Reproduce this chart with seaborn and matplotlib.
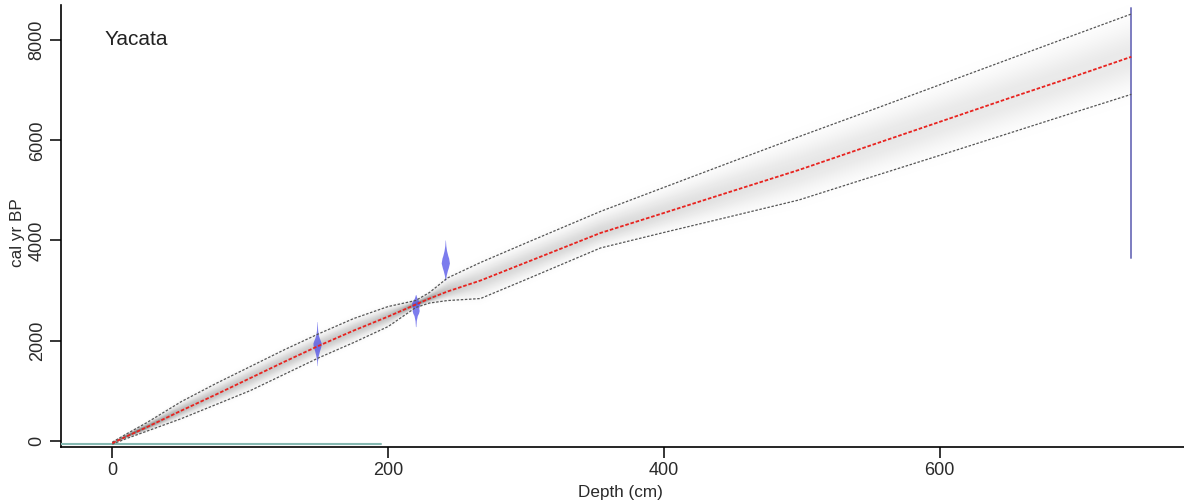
import numpy as np
import pandas as pd
import matplotlib
matplotlib.use("Agg")
import matplotlib.pyplot as plt
import seaborn as sns

# ---------------- data ----------------
depth = [0, 10, 25, 50, 75, 100, 125, 150, 175, 200, 220, 230, 243, 267,
         300, 354, 400, 450, 498, 550, 600, 650, 700, 739]
age_mean = [-50, 80, 270, 600, 920, 1250, 1580, 1900, 2200, 2480, 2720, 2840,
            2980, 3200, 3560, 4150, 4550, 4990, 5410, 5900, 6370, 6840, 7300, 7670]
age_upper = [-30, 130, 360, 780, 1140, 1480, 1820, 2140, 2440, 2680, 2800, 2960,
             3250, 3560, 3950, 4580, 5060, 5580, 6075, 6600, 7110, 7620, 8130, 8525]
age_lower = [-70, 40, 190, 440, 720, 1000, 1330, 1660, 1960, 2280, 2660, 2750,
             2800, 2840, 3220, 3850, 4160, 4490, 4810, 5265, 5700, 6140, 6580, 6920]

# calibrated date distributions (depth, ages, relative probability)
date1_depth = 148.5
date1_age = [1500, 1600, 1700, 1750, 1800, 1850, 1900, 1950, 2000, 2050, 2100, 2200, 2300, 2380]
date1_prob = [0.03, 0.1, 0.3, 0.45, 0.6, 0.8, 0.95, 1.0, 0.8, 0.55, 0.35, 0.15, 0.08, 0.03]
date2_depth = 220
date2_age = [2280, 2400, 2500, 2550, 2600, 2650, 2700, 2750, 2800, 2850, 2920]
date2_prob = [0.05, 0.15, 0.4, 0.7, 0.85, 0.75, 0.9, 1.0, 0.7, 0.3, 0.05]
date3_depth = 241.5
date3_age = [3200, 3300, 3400, 3450, 3500, 3550, 3600, 3650, 3700, 3800, 3900, 4010]
date3_prob = [0.05, 0.2, 0.5, 0.7, 0.85, 1.0, 0.9, 0.8, 0.6, 0.3, 0.12, 0.03]
date4_depth = 739
date4_age = [3650, 8640]

# surface age line
surface_depth = [-37, 195]
surface_age = [-60, -60]

x_ticks = [0, 200, 400, 600]
y_ticks = [0, 2000, 4000, 6000, 8000]
title = "Yacata"
x_label = "Depth (cm)"
y_label = "cal yr BP"

# ---------------- plotting ----------------
sns.set_style("ticks")
plt.rcParams["font.family"] = ["Liberation Sans", "DejaVu Sans"]

fig = plt.figure(figsize=(11.84, 5.04), dpi=100)
ax = fig.add_axes([61 / 1184, 57 / 504, 1123 / 1184, 442 / 504])

XLIM = (-37.2, 777.2)
YLIM = (-126, 8705)

d = np.array(depth, float)
m = np.array(age_mean, float)
u = np.array(age_upper, float)
lo = np.array(age_lower, float)

# grey density field rendered from the band arrays
dg = np.linspace(d[0], d[-1], 1400)
ag = np.linspace(YLIM[0], YLIM[1], 1000)
mg = np.interp(dg, d, m)
ug = np.interp(dg, d, u)
lg = np.interp(dg, d, lo)
hw = (ug - lg) / 2.0
dark = np.clip(0.15 * (400.0 / np.maximum(hw, 1)) ** 0.75, 0, 0.6)
A, D = np.meshgrid(ag, dg, indexing="ij")
half = np.where(A >= mg[None, :], (ug - mg)[None, :], (mg - lg)[None, :])
z = (A - mg[None, :]) / np.maximum(half, 1)
alpha = dark[None, :] * np.exp(-0.5 * (z / 0.5) ** 2)
img = np.zeros(A.shape + (4,))
img[..., 0:3] = 0.05
img[..., 3] = alpha
ax.imshow(img, extent=[dg[0], dg[-1], ag[0], ag[-1]], origin="lower",
          aspect="auto", interpolation="bilinear", zorder=1)

# date distributions
scale = 3.0
for dd, agd, pr in [(date1_depth, date1_age, date1_prob),
                    (date2_depth, date2_age, date2_prob),
                    (date3_depth, date3_age, date3_prob)]:
    pr = np.array(pr)
    ax.fill_betweenx(agd, dd - scale * pr, dd + scale * pr,
                     color="#4a4ae6", alpha=0.72, lw=0, zorder=4)
ax.plot([date4_depth, date4_depth], date4_age, color="#7c7cc0", lw=1.4, zorder=4)

# surface line
ax.plot(surface_depth, surface_age, color="#86b9b2", lw=1.5, zorder=3)

df = pd.DataFrame({"depth": depth, "mean": age_mean,
                   "upper": age_upper, "lower": age_lower})
sns.lineplot(data=df, x="depth", y="upper", ax=ax, color="#555555", lw=0.9,
             linestyle=(0, (2, 1.3)), zorder=5)
sns.lineplot(data=df, x="depth", y="lower", ax=ax, color="#555555", lw=0.9,
             linestyle=(0, (2, 1.3)), zorder=5)
sns.lineplot(data=df, x="depth", y="mean", ax=ax, color="#e8231f", lw=1.3,
             linestyle=(0, (2, 1)), zorder=6)

ax.set_xlim(*XLIM)
ax.set_ylim(*YLIM)
ax.set_xticks(x_ticks)
ax.set_yticks(y_ticks)
ax.tick_params(axis="both", length=8, width=1.1, labelsize=13,
               color="black", labelcolor="#2a2a2a")
ax.tick_params(axis="y", labelrotation=90, pad=3)
for lab in ax.get_yticklabels():
    lab.set_va("center")
ax.tick_params(axis="x", pad=3)

sns.despine(ax=ax)
for s in ["left", "bottom"]:
    ax.spines[s].set_linewidth(1.2)
    ax.spines[s].set_color("black")

ax.set_xlabel(x_label, fontsize=12.3, color="#2a2a2a")
ax.set_ylabel(y_label, fontsize=12.3, color="#2a2a2a")
ax.xaxis.set_label_coords(0.498, -0.086)
ax.yaxis.set_label_coords(-0.032, 0.485)
ax.text(0.039, 0.921, title, transform=ax.transAxes, fontsize=15,
        va="center", ha="left", color="#222222")

fig.savefig("out.png", dpi=100, facecolor="white")
